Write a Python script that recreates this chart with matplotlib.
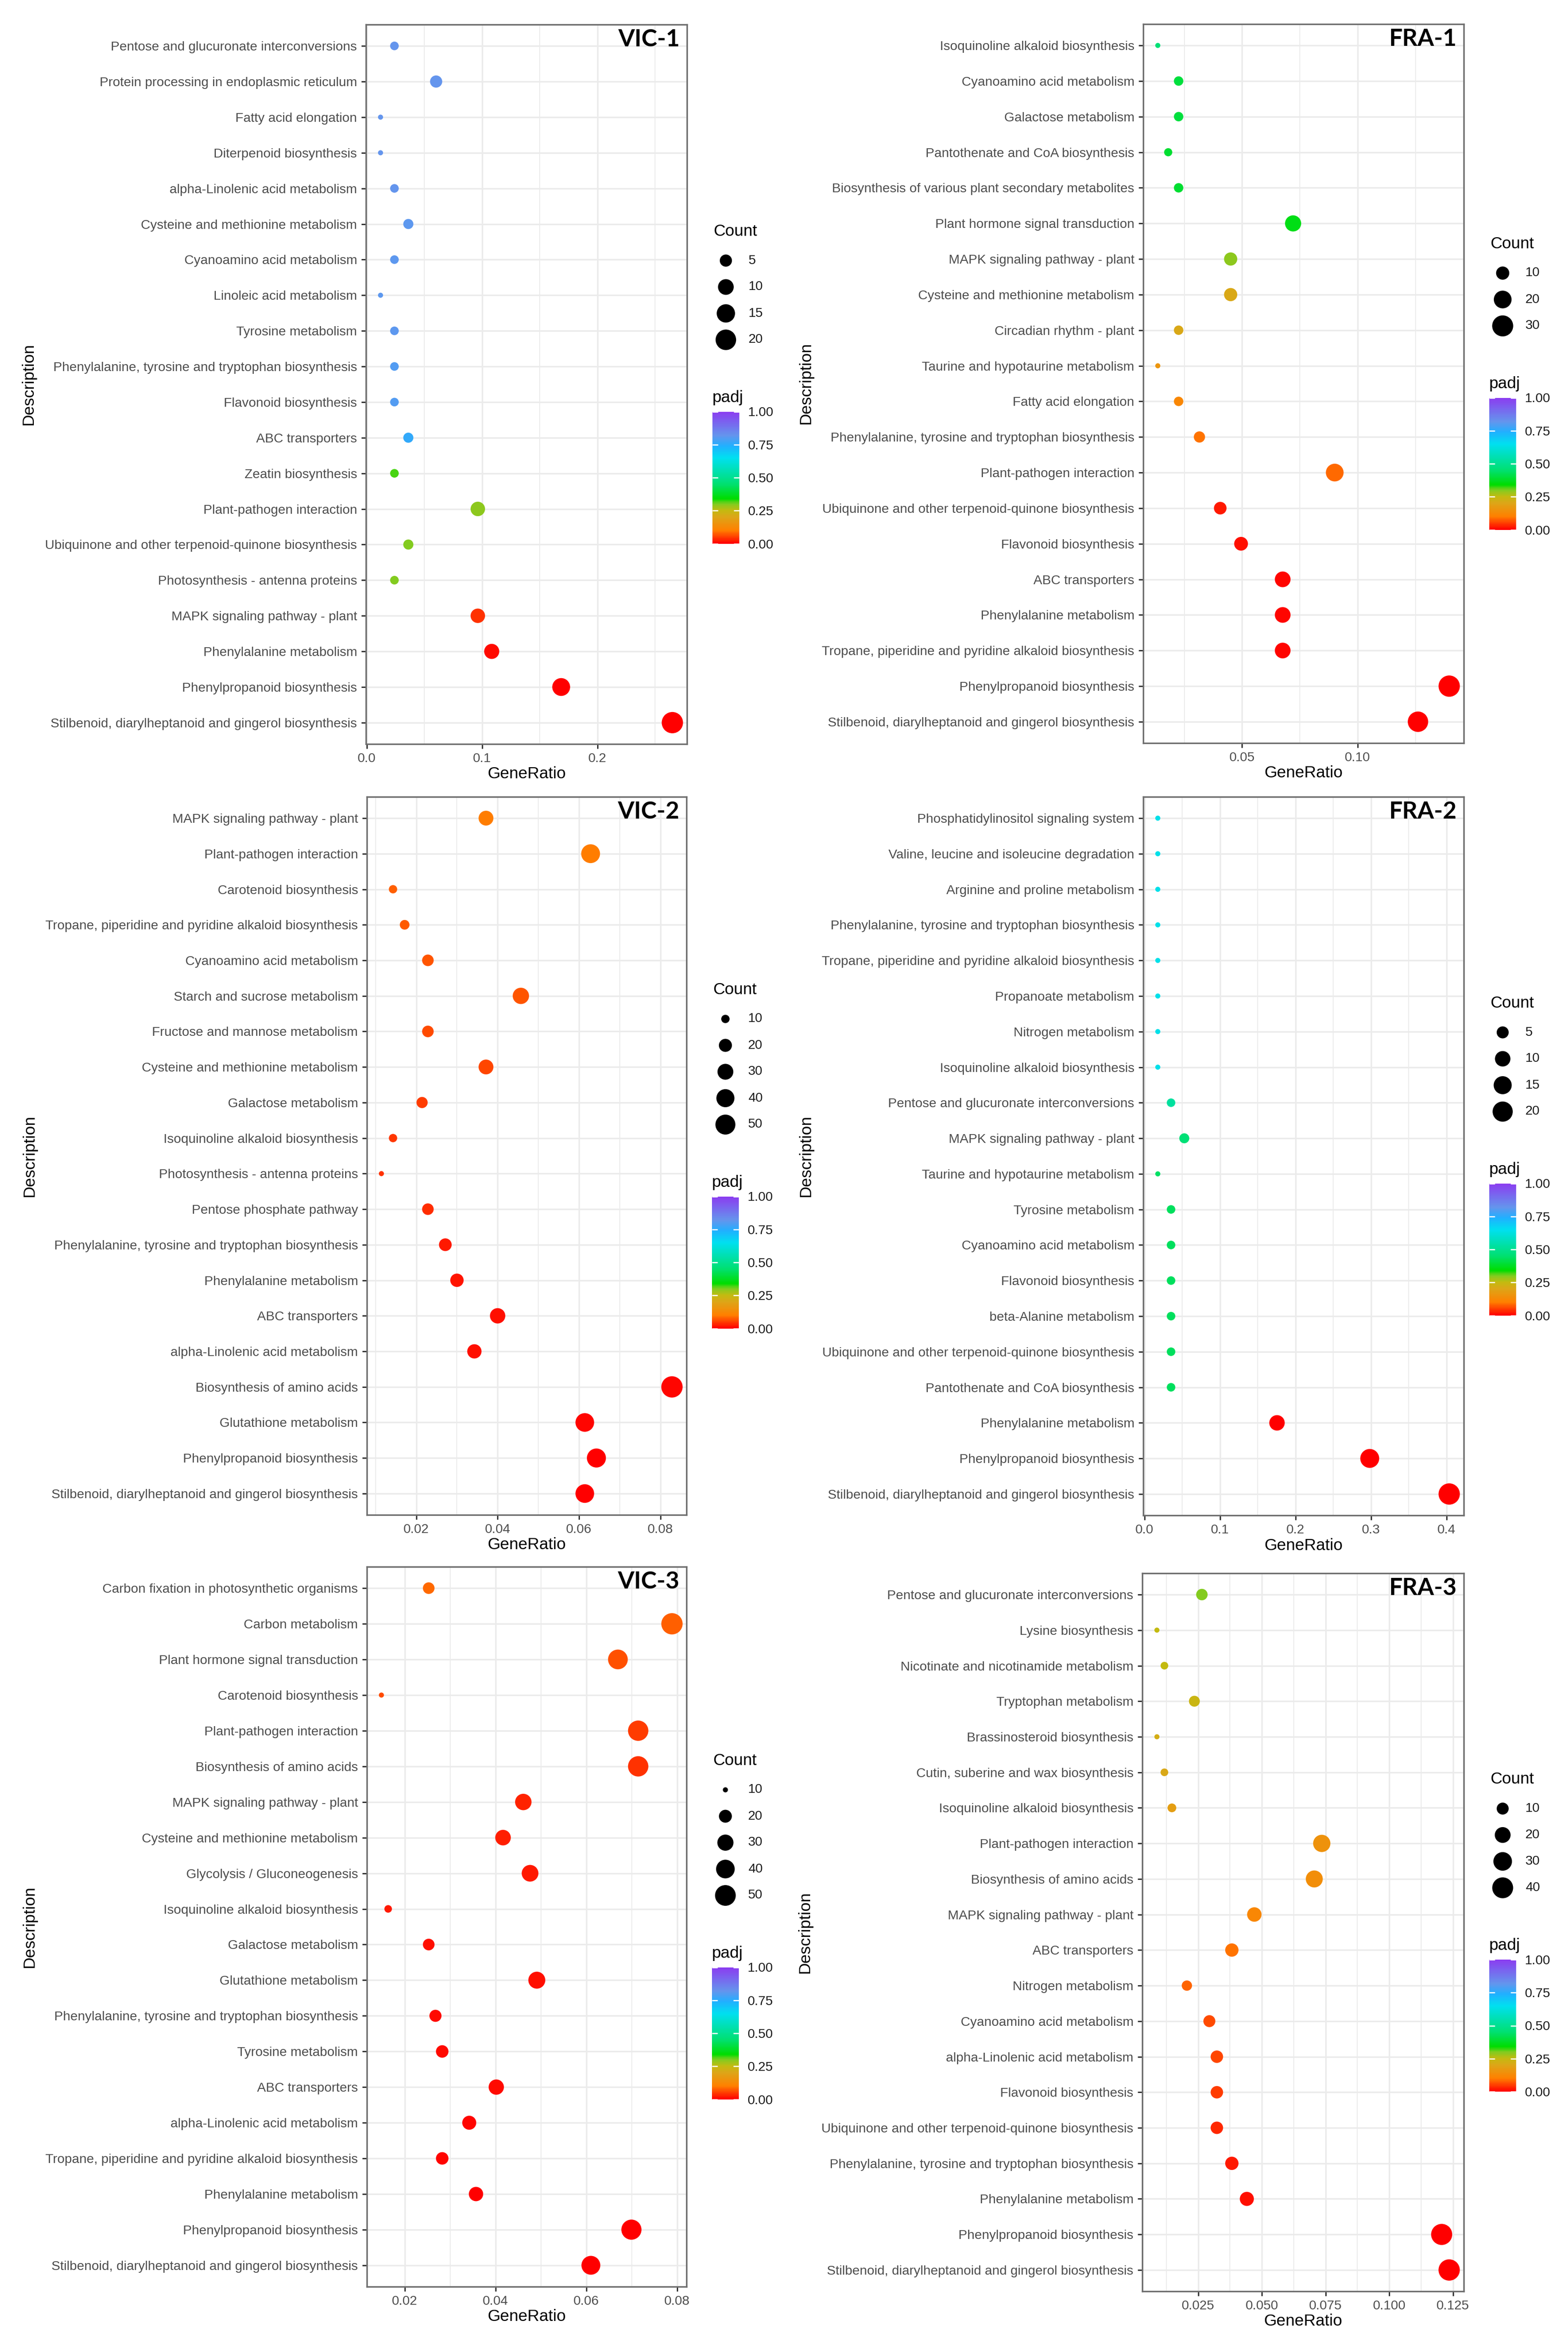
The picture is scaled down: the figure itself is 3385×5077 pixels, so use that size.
import matplotlib
matplotlib.use('Agg')
import matplotlib.pyplot as plt
import numpy as np
from matplotlib.colors import LinearSegmentedColormap, Normalize
from matplotlib.cm import ScalarMappable

W, H, DPI = 3385, 5077, 300
plt.rcParams['font.family'] = ['Liberation Sans', 'DejaVu Sans']

# ---------------- data ----------------
VIC1_TERMS = [
    'Pentose and glucuronate interconversions',
    'Protein processing in endoplasmic reticulum',
    'Fatty acid elongation',
    'Diterpenoid biosynthesis',
    'alpha-Linolenic acid metabolism',
    'Cysteine and methionine metabolism',
    'Cyanoamino acid metabolism',
    'Linoleic acid metabolism',
    'Tyrosine metabolism',
    'Phenylalanine, tyrosine and tryptophan biosynthesis',
    'Flavonoid biosynthesis',
    'ABC transporters',
    'Zeatin biosynthesis',
    'Plant-pathogen interaction',
    'Ubiquinone and other terpenoid-quinone biosynthesis',
    'Photosynthesis - antenna proteins',
    'MAPK signaling pathway - plant',
    'Phenylalanine metabolism',
    'Phenylpropanoid biosynthesis',
    'Stilbenoid, diarylheptanoid and gingerol biosynthesis',
]
VIC1_COUNT = [2, 5, 1, 1, 2, 3, 2, 1, 2, 2, 2, 3, 2, 8, 3, 2, 8, 9, 14, 22]
VIC1_TOTAL = 83
VIC1_PADJ = [0.82, 0.82, 0.82, 0.82, 0.82, 0.81, 0.81, 0.81, 0.81, 0.80, 0.80, 0.76,
             0.32, 0.29, 0.30, 0.30, 0.04, 0.01, 0.0005, 0.0]

FRA1_TERMS = [
    'Isoquinoline alkaloid biosynthesis',
    'Cyanoamino acid metabolism',
    'Galactose metabolism',
    'Pantothenate and CoA biosynthesis',
    'Biosynthesis of various plant secondary metabolites',
    'Plant hormone signal transduction',
    'MAPK signaling pathway - plant',
    'Cysteine and methionine metabolism',
    'Circadian rhythm - plant',
    'Taurine and hypotaurine metabolism',
    'Fatty acid elongation',
    'Phenylalanine, tyrosine and tryptophan biosynthesis',
    'Plant-pathogen interaction',
    'Ubiquinone and other terpenoid-quinone biosynthesis',
    'Flavonoid biosynthesis',
    'ABC transporters',
    'Phenylalanine metabolism',
    'Tropane, piperidine and pyridine alkaloid biosynthesis',
    'Phenylpropanoid biosynthesis',
    'Stilbenoid, diarylheptanoid and gingerol biosynthesis',
]
FRA1_COUNT = [3, 5, 5, 4, 5, 16, 10, 10, 5, 3, 5, 7, 20, 9, 11, 15, 15, 15, 31, 28]
FRA1_TOTAL = 222
FRA1_PADJ = [0.46, 0.40, 0.40, 0.39, 0.39, 0.36, 0.29, 0.21, 0.21, 0.16, 0.12, 0.09,
             0.085, 0.02, 0.015, 0.005, 0.005, 0.005, 0.0, 0.0]

VIC2_TERMS = [
    'MAPK signaling pathway - plant',
    'Plant-pathogen interaction',
    'Carotenoid biosynthesis',
    'Tropane, piperidine and pyridine alkaloid biosynthesis',
    'Cyanoamino acid metabolism',
    'Starch and sucrose metabolism',
    'Fructose and mannose metabolism',
    'Cysteine and methionine metabolism',
    'Galactose metabolism',
    'Isoquinoline alkaloid biosynthesis',
    'Photosynthesis - antenna proteins',
    'Pentose phosphate pathway',
    'Phenylalanine, tyrosine and tryptophan biosynthesis',
    'Phenylalanine metabolism',
    'ABC transporters',
    'alpha-Linolenic acid metabolism',
    'Biosynthesis of amino acids',
    'Glutathione metabolism',
    'Phenylpropanoid biosynthesis',
    'Stilbenoid, diarylheptanoid and gingerol biosynthesis',
]
VIC2_COUNT = [26, 44, 10, 12, 16, 32, 16, 26, 15, 10, 8, 16, 19, 21, 28, 24, 58, 43, 45, 43]
VIC2_TOTAL = 700
VIC2_PADJ = [0.10, 0.10, 0.075, 0.072, 0.068, 0.068, 0.06, 0.058, 0.05, 0.045, 0.04, 0.038,
             0.02, 0.018, 0.015, 0.012, 0.005, 0.004, 0.001, 0.0]

FRA2_TERMS = [
    'Phosphatidylinositol signaling system',
    'Valine, leucine and isoleucine degradation',
    'Arginine and proline metabolism',
    'Phenylalanine, tyrosine and tryptophan biosynthesis',
    'Tropane, piperidine and pyridine alkaloid biosynthesis',
    'Propanoate metabolism',
    'Nitrogen metabolism',
    'Isoquinoline alkaloid biosynthesis',
    'Pentose and glucuronate interconversions',
    'MAPK signaling pathway - plant',
    'Taurine and hypotaurine metabolism',
    'Tyrosine metabolism',
    'Cyanoamino acid metabolism',
    'Flavonoid biosynthesis',
    'beta-Alanine metabolism',
    'Ubiquinone and other terpenoid-quinone biosynthesis',
    'Pantothenate and CoA biosynthesis',
    'Phenylalanine metabolism',
    'Phenylpropanoid biosynthesis',
    'Stilbenoid, diarylheptanoid and gingerol biosynthesis',
]
FRA2_COUNT = [1, 1, 1, 1, 1, 1, 1, 1, 2, 3, 1, 2, 2, 2, 2, 2, 2, 10, 17, 23]
FRA2_TOTAL = 57
FRA2_PADJ = [0.64, 0.64, 0.64, 0.64, 0.64, 0.64, 0.64, 0.64, 0.52, 0.46, 0.44, 0.43,
             0.43, 0.43, 0.43, 0.43, 0.43, 0.002, 0.0, 0.0]

VIC3_TERMS = [
    'Carbon fixation in photosynthetic organisms',
    'Carbon metabolism',
    'Plant hormone signal transduction',
    'Carotenoid biosynthesis',
    'Plant-pathogen interaction',
    'Biosynthesis of amino acids',
    'MAPK signaling pathway - plant',
    'Cysteine and methionine metabolism',
    'Glycolysis / Gluconeogenesis',
    'Isoquinoline alkaloid biosynthesis',
    'Galactose metabolism',
    'Glutathione metabolism',
    'Phenylalanine, tyrosine and tryptophan biosynthesis',
    'Tyrosine metabolism',
    'ABC transporters',
    'alpha-Linolenic acid metabolism',
    'Tropane, piperidine and pyridine alkaloid biosynthesis',
    'Phenylalanine metabolism',
    'Phenylpropanoid biosynthesis',
    'Stilbenoid, diarylheptanoid and gingerol biosynthesis',
]
VIC3_COUNT = [17, 53, 45, 10, 48, 48, 31, 28, 32, 11, 17, 33, 18, 19, 27, 23, 19, 24, 47, 41]
VIC3_TOTAL = 672
VIC3_PADJ = [0.085, 0.075, 0.065, 0.06, 0.05, 0.042, 0.03, 0.025, 0.022, 0.02, 0.015, 0.012,
             0.01, 0.009, 0.008, 0.006, 0.005, 0.003, 0.001, 0.0]

FRA3_TERMS = [
    'Pentose and glucuronate interconversions',
    'Lysine biosynthesis',
    'Nicotinate and nicotinamide metabolism',
    'Tryptophan metabolism',
    'Brassinosteroid biosynthesis',
    'Cutin, suberine and wax biosynthesis',
    'Isoquinoline alkaloid biosynthesis',
    'Plant-pathogen interaction',
    'Biosynthesis of amino acids',
    'MAPK signaling pathway - plant',
    'ABC transporters',
    'Nitrogen metabolism',
    'Cyanoamino acid metabolism',
    'alpha-Linolenic acid metabolism',
    'Flavonoid biosynthesis',
    'Ubiquinone and other terpenoid-quinone biosynthesis',
    'Phenylalanine, tyrosine and tryptophan biosynthesis',
    'Phenylalanine metabolism',
    'Phenylpropanoid biosynthesis',
    'Stilbenoid, diarylheptanoid and gingerol biosynthesis',
]
FRA3_COUNT = [9, 3, 4, 8, 3, 4, 5, 25, 24, 16, 13, 7, 10, 11, 11, 11, 13, 15, 41, 42]
FRA3_TOTAL = 340
FRA3_PADJ = [0.30, 0.25, 0.25, 0.24, 0.22, 0.21, 0.18, 0.15, 0.14, 0.12, 0.09, 0.08,
             0.06, 0.055, 0.05, 0.035, 0.02, 0.015, 0.0, 0.0]

# x-axis ticks and size-legend breaks per panel
VIC1_XTICKS, VIC1_XLABELS = [0.0, 0.1, 0.2], ['0.0', '0.1', '0.2']
FRA1_XTICKS, FRA1_XLABELS = [0.05, 0.10], ['0.05', '0.10']
VIC2_XTICKS, VIC2_XLABELS = [0.02, 0.04, 0.06, 0.08], ['0.02', '0.04', '0.06', '0.08']
FRA2_XTICKS, FRA2_XLABELS = [0.0, 0.1, 0.2, 0.3, 0.4], ['0.0', '0.1', '0.2', '0.3', '0.4']
VIC3_XTICKS, VIC3_XLABELS = [0.02, 0.04, 0.06, 0.08], ['0.02', '0.04', '0.06', '0.08']
FRA3_XTICKS, FRA3_XLABELS = [0.025, 0.050, 0.075, 0.100, 0.125], ['0.025', '0.050', '0.075', '0.100', '0.125']

VIC1_BREAKS = [5, 10, 15, 20]
FRA1_BREAKS = [10, 20, 30]
VIC2_BREAKS = [10, 20, 30, 40, 50]
FRA2_BREAKS = [5, 10, 15, 20]
VIC3_BREAKS = [10, 20, 30, 40, 50]
FRA3_BREAKS = [10, 20, 30, 40]

PADJ_STOPS = [0.0, 0.10, 0.20, 0.25, 0.30, 0.34, 0.45, 0.55, 0.65, 0.74, 0.82, 1.0]
PADJ_COLORS = ['#FF0000', '#FF8000', '#DDA518', '#C4BA10', '#80CC20', '#00DD00',
               '#00E070', '#00E0B0', '#00E0F0', '#20B0FF', '#6495ED', '#8B3CF0']

# ---------------- layout (pixels of the output image) ----------------
# name, terms, counts, total, padj, xticks, xlabels, breaks, (left, right, top, bottom)
panels = [
    ('VIC-1', VIC1_TERMS, VIC1_COUNT, VIC1_TOTAL, VIC1_PADJ, VIC1_XTICKS, VIC1_XLABELS, VIC1_BREAKS, (790, 1483, 53, 1606)),
    ('FRA-1', FRA1_TERMS, FRA1_COUNT, FRA1_TOTAL, FRA1_PADJ, FRA1_XTICKS, FRA1_XLABELS, FRA1_BREAKS, (2468, 3160, 52, 1604)),
    ('VIC-2', VIC2_TERMS, VIC2_COUNT, VIC2_TOTAL, VIC2_PADJ, VIC2_XTICKS, VIC2_XLABELS, VIC2_BREAKS, (792, 1482, 1720, 3270)),
    ('FRA-2', FRA2_TERMS, FRA2_COUNT, FRA2_TOTAL, FRA2_PADJ, FRA2_XTICKS, FRA2_XLABELS, FRA2_BREAKS, (2468, 3160, 1720, 3271)),
    ('VIC-3', VIC3_TERMS, VIC3_COUNT, VIC3_TOTAL, VIC3_PADJ, VIC3_XTICKS, VIC3_XLABELS, VIC3_BREAKS, (792, 1482, 3382, 4936)),
    ('FRA-3', FRA3_TERMS, FRA3_COUNT, FRA3_TOTAL, FRA3_PADJ, FRA3_XTICKS, FRA3_XLABELS, FRA3_BREAKS, (2466, 3160, 3396, 4946)),
]

cmap = LinearSegmentedColormap.from_list('padj', list(zip(PADJ_STOPS, PADJ_COLORS)))
norm = Normalize(0, 1)

TICK_FS = 6.8
TITLE_FS = 8.5
GRID = '#EBEBEB'


def dot_area(v, vmin, vmax):
    # ggplot-like area scale: diameter grows with sqrt of rescaled count
    t = np.clip((np.asarray(v, float) - vmin) / (vmax - vmin), 0, 1)
    d_px = 11 + 35 * np.sqrt(t)
    return (d_px * 72.0 / DPI) ** 2


fig = plt.figure(figsize=(W / DPI, H / DPI), dpi=DPI)
fig.patch.set_facecolor('white')

overlay = fig.add_axes([0, 0, 1, 1], facecolor='none')
overlay.set_xlim(0, W)
overlay.set_ylim(H, 0)
overlay.axis('off')
overlay.set_zorder(5)

for name, terms, counts, total, padj, xt, xl, breaks, (left, right, top, bottom) in panels:
    counts = np.array(counts)
    ratio = counts / total
    n = len(terms)
    ypos = np.arange(n)
    ax = fig.add_axes([left / W, 1 - bottom / H, (right - left) / W, (bottom - top) / H])
    ax.set_axisbelow(True)
    ax.scatter(ratio, ypos, s=dot_area(counts, counts.min(), counts.max()),
               c=padj, cmap=cmap, norm=norm, edgecolors='none', zorder=3)

    ax.set_yticks(ypos)
    ax.set_yticklabels(terms)
    ax.set_xticks(xt)
    ax.set_xticklabels(xl)
    step = xt[1] - xt[0]
    ax.set_xticks(np.arange(xt[0] - step / 2, xt[-1] + step, step), minor=True)

    # limits last, so the tick calls cannot widen them
    lo, hi = ratio.min(), ratio.max()
    pad = 0.05 * (hi - lo)
    ax.set_xlim(lo - pad, hi + pad)
    ax.set_ylim(n - 0.4, -0.6)

    ax.grid(which='major', color=GRID, linewidth=0.8)
    ax.grid(which='minor', axis='x', color=GRID, linewidth=0.45)
    ax.tick_params(which='major', length=2.4, width=0.7, color='#333333',
                   labelcolor='#4D4D4D', labelsize=TICK_FS, pad=2.2)
    ax.tick_params(which='minor', length=0)
    for sp in ax.spines.values():
        sp.set_color('#6E6E6E')
        sp.set_linewidth(0.8)
        sp.set_zorder(4)

    wpx = right - left
    hpx = bottom - top
    ax.set_xlabel('GeneRatio', fontsize=TITLE_FS, color='black', va='center')
    ax.xaxis.set_label_coords(0.5, -65 / hpx)
    ax.set_ylabel('Description', fontsize=TITLE_FS, color='black', va='center', ha='center')
    ax.yaxis.set_label_coords(-728 / wpx, 0.5)

    ax.text(1 - 15 / wpx, 1 - 9 / hpx, name, transform=ax.transAxes, ha='right', va='top',
            fontsize=12.3, fontweight='bold', family=['Lato', 'DejaVu Sans'], color='black', zorder=6)

    # legends, centred on the panel
    yc = (top + bottom) / 2
    nb = len(breaks)
    title_y = yc - 330 - (nb - 4) * 28.5
    key_y = title_y + 63 + 57 * np.arange(nb)
    overlay.text(right + 57, title_y, 'Count', fontsize=TITLE_FS, ha='left', va='center', color='black')
    overlay.scatter(np.full(nb, right + 84), key_y, s=dot_area(breaks, counts.min(), counts.max()),
                    color='black', edgecolors='none')
    for b, yk in zip(breaks, key_y):
        overlay.text(right + 133, yk, str(b), fontsize=TICK_FS, ha='left', va='center', color='#1A1A1A')

    padj_y = key_y[-1] + 125
    cb_top = padj_y + 30
    cb_h = 285
    overlay.text(right + 55, padj_y, 'padj', fontsize=TITLE_FS, ha='left', va='center', color='black')
    cax = fig.add_axes([(right + 55) / W, 1 - (cb_top + cb_h) / H, 58 / W, cb_h / H])
    cb = fig.colorbar(ScalarMappable(norm=norm, cmap=cmap), cax=cax)
    cb.outline.set_visible(False)
    cb.set_ticks([0, 0.25, 0.5, 0.75, 1.0])
    cb.set_ticklabels(['0.00', '0.25', '0.50', '0.75', '1.00'])
    cax.tick_params(axis='y', direction='in', left=True, right=True, color='white',
                    length=2.8, width=0.6, labelsize=TICK_FS, labelcolor='#1A1A1A', pad=4.6)

fig.savefig('out.png', dpi=DPI, facecolor='white')
